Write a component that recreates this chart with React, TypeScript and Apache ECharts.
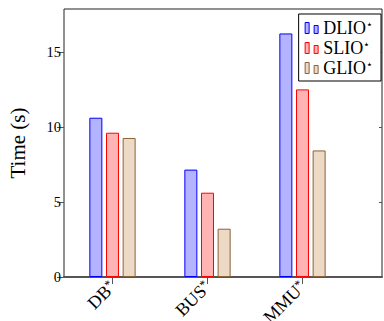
import React, { useEffect, useRef } from 'react';
import * as echarts from 'echarts';

const categories = ['DB', 'BUS', 'MMU'];
const categoryPositions = [1, 2, 3];
const seriesNames = ['DLIO', 'SLIO', 'GLIO'];
const dlio = [10.62, 7.16, 16.24];
const slio = [9.62, 5.62, 12.51];
const glio = [9.27, 3.22, 8.44];
const yTicks = [0, 5, 10, 15];

const fills = ['#b3b3ff', '#ffb3b3', '#ecd9c6'];
const strokes = ['#0000ff', '#ff0000', '#8a6239'];
const FONT = '"Liberation Serif", "DejaVu Serif", serif';

export default function App() {
  const ref = useRef<HTMLDivElement>(null);
  useEffect(() => {
    if (!ref.current) return;
    const chart = echarts.init(ref.current, undefined, { renderer: 'svg' });
    const values = [dlio, slio, glio];
    const xMin = 0.4895;
    const xMax = 3.837;
    chart.setOption({
      animation: false,
      grid: {
        left: 64, right: 2, top: 9, bottom: 44,
        show: true, borderColor: '#222', borderWidth: 1,
        outerBoundsMode: 'none', containLabel: false,
      },
      legend: {
        orient: 'vertical', right: 3, top: 14,
        backgroundColor: '#fff', borderColor: '#000', borderWidth: 1, borderRadius: 0,
        padding: [5, 8, 4, 6], itemGap: 2, itemWidth: 13, itemHeight: 11,
        icon: 'path://M0,0H4V11H0Z M9,3H13V11H9Z',
        data: seriesNames.map((n, i) => ({
          name: n,
          itemStyle: { color: fills[i], borderColor: strokes[i], borderWidth: 1 },
        })),
        formatter: (n: string) => `{a|${n}}{s|⋆}`,
        textStyle: {
          color: '#000', fontFamily: FONT, fontSize: 18,
          rich: {
            a: { fontFamily: FONT, fontSize: 18, color: '#000' },
            s: { fontFamily: '"DejaVu Sans", sans-serif', fontSize: 11, color: '#000', verticalAlign: 'top' },
          },
        },
      },
      xAxis: [
        {
          type: 'value', min: xMin, max: xMax, position: 'bottom',
          axisLine: { show: true, onZero: false, lineStyle: { color: '#555', width: 2 } },
          axisTick: { show: true, customValues: categoryPositions, length: 7, inside: false, lineStyle: { color: '#555' } },
          axisLabel: {
            customValues: categoryPositions,
            rotate: 45, margin: 7,
            fontFamily: FONT, fontSize: 18, color: '#000',
            formatter: (v: number) => {
              const i = categoryPositions.indexOf(Math.round(v));
              return i >= 0 ? `{a|${categories[i]}}{s|*}` : '';
            },
            rich: {
              a: { fontFamily: FONT, fontSize: 18, color: '#000' },
              s: { fontFamily: FONT, fontSize: 12, color: '#000', verticalAlign: 'top' },
            },
          },
          splitLine: { show: false },
        },
        {
          type: 'value', min: xMin, max: xMax, position: 'top',
          axisLine: { show: false },
          axisTick: { show: true, customValues: categoryPositions, length: 9, inside: false, lineStyle: { color: '#555' } },
          axisLabel: { show: false },
          splitLine: { show: false },
        },
      ],
      yAxis: [
        {
          type: 'value', min: 0, max: 17.87, position: 'left',
          name: 'Time (s)', nameLocation: 'middle', nameGap: 36,
          nameTextStyle: { fontFamily: FONT, fontSize: 21, color: '#000' },
          axisLine: { show: false },
          axisTick: { show: true, customValues: yTicks, length: 7, inside: false, lineStyle: { color: '#555' } },
          axisLabel: { customValues: yTicks, margin: 3, fontFamily: FONT, fontSize: 14.5, color: '#000' },
          splitLine: { show: false },
        },
        {
          type: 'value', min: 0, max: 17.87, position: 'right',
          axisLine: { show: false },
          axisTick: { show: true, customValues: yTicks, length: 3, inside: true, lineStyle: { color: '#555' } },
          axisLabel: { show: false },
          splitLine: { show: false },
        },
      ],
      series: seriesNames.map((n, si) => ({
        name: n,
        type: 'bar',
        xAxisIndex: 0,
        yAxisIndex: 0,
        barWidth: 13,
        barGap: '28%',
        itemStyle: { color: fills[si], borderColor: strokes[si], borderWidth: 1 },
        data: categoryPositions.map((x, i) => [x, values[si][i]]),
      })),
    });
    return () => chart.dispose();
  }, []);
  return <div ref={ref} style={{ width: 384, height: 321, position: 'absolute', left: 0, top: 0 }} />;
}
